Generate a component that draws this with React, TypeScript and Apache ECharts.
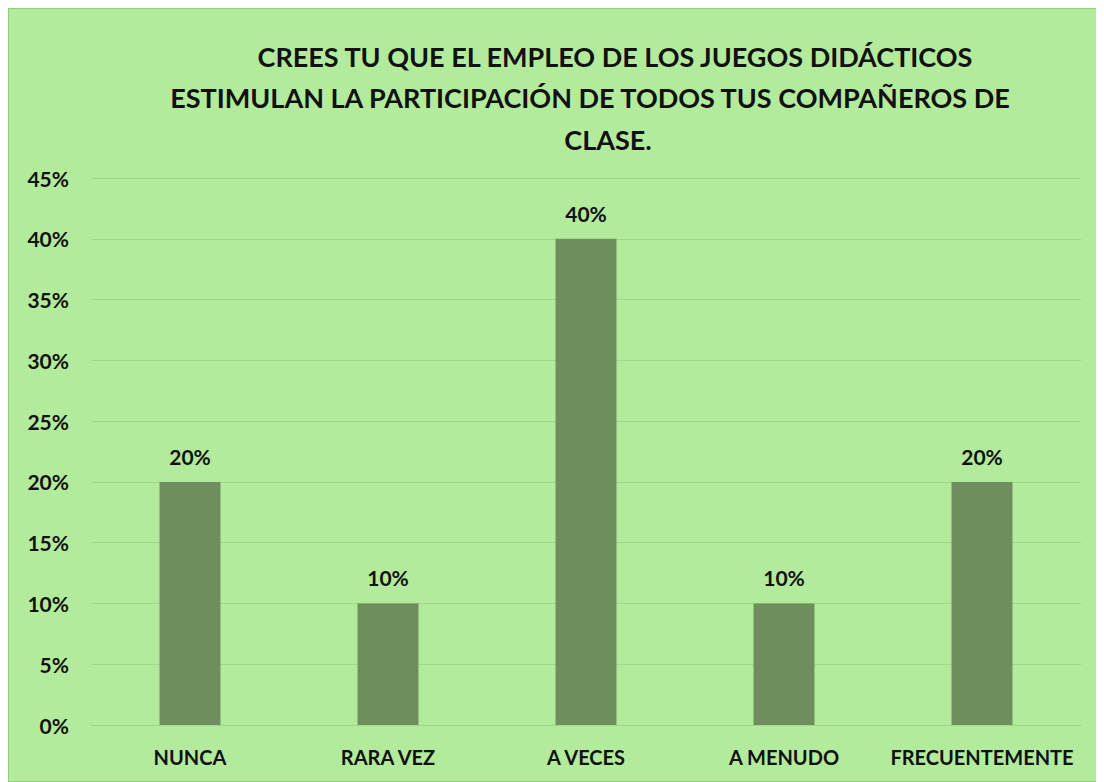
import React, { useEffect, useRef } from "react";
import * as echarts from "echarts";

const titleLines = [
  "CREES TU QUE EL EMPLEO DE LOS JUEGOS DIDÁCTICOS",
  "ESTIMULAN LA PARTICIPACIÓN DE TODOS TUS COMPAÑEROS DE",
  "CLASE.",
];
const categories = ["NUNCA", "RARA VEZ", "A VECES", "A MENUDO", "FRECUENTEMENTE"];
const values = [0.2, 0.1, 0.4, 0.1, 0.2];
const yMax = 0.45;
const yStep = 0.05;

const FONT = "Lato, 'Open Sans', sans-serif";

export default function App() {
  const ref = useRef<HTMLDivElement>(null);
  useEffect(() => {
    if (!ref.current) return;
    const chart = echarts.init(ref.current, undefined, { renderer: "svg" });
    chart.setOption({
      animation: false,
      backgroundColor: "#b3eb9c",
      textStyle: { fontFamily: FONT },
      graphic: [
        { type: "text", x: 606, y: 34, style: { text: titleLines[0], font: `bold 27px ${FONT}`, fill: "#111", textAlign: "center" } },
        { type: "text", x: 581, y: 75, style: { text: titleLines[1], font: `bold 27px ${FONT}`, fill: "#111", textAlign: "center" } },
        { type: "text", x: 599, y: 117, style: { text: titleLines[2], font: `bold 27px ${FONT}`, fill: "#111", textAlign: "center" } },
      ],
      grid: { left: 82, right: 22, top: 169, bottom: 56 },
      xAxis: {
        type: "category",
        data: categories,
        axisLine: { show: true, lineStyle: { color: "#9fd68a" } },
        axisTick: { show: false },
        axisLabel: {
          interval: 0,
          hideOverlap: false,
          color: "#111",
          fontWeight: "bold",
          fontSize: 20,
          margin: 22,
          fontFamily: FONT,
        },
      },
      yAxis: {
        type: "value",
        min: 0,
        max: yMax,
        interval: yStep,
        axisLine: { show: false },
        axisTick: { show: false },
        splitLine: { lineStyle: { color: "#9fd68a", width: 1 } },
        axisLabel: {
          color: "#111",
          fontWeight: "bold",
          fontSize: 21,
          margin: 22,
          fontFamily: FONT,
          formatter: (v: number) => `${Math.round(v * 100)}%`,
        },
      },
      series: [
        {
          type: "bar",
          data: values,
          barWidth: 61,
          itemStyle: { color: "#6e8f5d" },
          label: {
            show: true,
            position: "top",
            distance: 15,
            color: "#111",
            fontWeight: "bold",
            fontSize: 21,
            fontFamily: FONT,
            formatter: (p: any) => `${Math.round(p.value * 100)}%`,
          },
        },
      ],
    });
    return () => chart.dispose();
  }, []);
  return (
    <div
      ref={ref}
      style={{
        width: 1094,
        height: 772,
        border: "1px solid #8fcf7b",
        boxSizing: "content-box",
      }}
    />
  );
}
